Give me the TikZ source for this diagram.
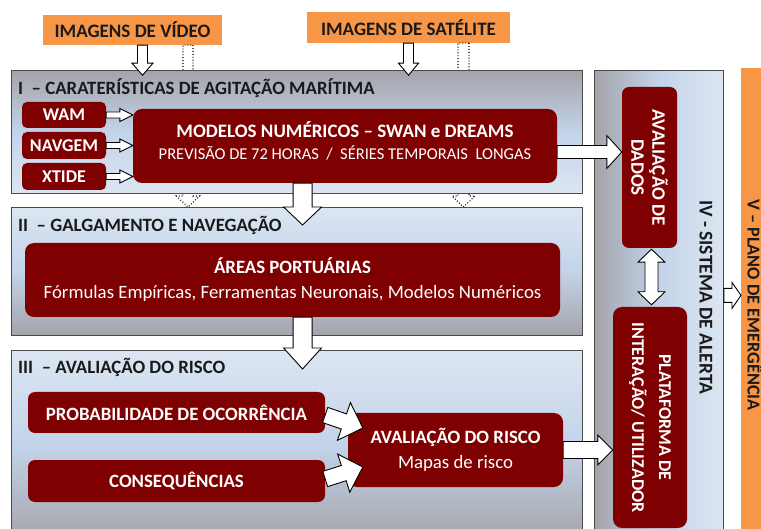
\documentclass[tikz,border=0pt]{standalone}
\usepackage{fontspec}
\setmainfont{Carlito}
\usetikzlibrary{calc}
\definecolor{orng}{HTML}{F79646}
\definecolor{dred}{HTML}{7F0000}
\definecolor{gry}{HTML}{A4A4A9}
\definecolor{lblue}{HTML}{C3D3EA}
\definecolor{llblue}{HTML}{DCE6F2}
\definecolor{edgec}{HTML}{4A4A4A}
\definecolor{txt}{HTML}{1A1A1A}

\newcommand{\blockarrow}[6][]{%
  \coordinate (ba-s) at #2; \coordinate (ba-e) at #3;
  \coordinate (ba-h) at ($(ba-e)!#6!(ba-s)$);
  \draw[blockarr,#1] ($(ba-s)!#4!90:(ba-e)$) -- ($(ba-h)!#4!90:(ba-e)$) -- ($(ba-h)!#5!90:(ba-e)$) -- (ba-e)
     -- ($(ba-h)!#5!-90:(ba-e)$) -- ($(ba-h)!#4!-90:(ba-e)$) -- ($(ba-s)!#4!-90:(ba-e)$) -- cycle;
}
\newcommand{\dblblockarrow}[6][]{%
  \coordinate (bb-s) at #2; \coordinate (bb-e) at #3;
  \coordinate (bb-h1) at ($(bb-s)!#6!(bb-e)$);
  \coordinate (bb-h2) at ($(bb-e)!#6!(bb-s)$);
  \draw[blockarr,#1] (bb-s) -- ($(bb-h1)!#5!90:(bb-e)$) -- ($(bb-h1)!#4!90:(bb-e)$) -- ($(bb-h2)!#4!90:(bb-e)$) -- ($(bb-h2)!#5!90:(bb-e)$) -- (bb-e)
     -- ($(bb-h2)!#5!-90:(bb-e)$) -- ($(bb-h2)!#4!-90:(bb-e)$) -- ($(bb-h1)!#4!-90:(bb-e)$) -- ($(bb-h1)!#5!-90:(bb-e)$) -- cycle;
}

\begin{document}
\begin{tikzpicture}[x=1pt,y=-1pt,
  gbox/.style={draw=edgec, line width=0.8pt, anchor=north west, inner sep=0pt},
  dbox/.style={fill=dred, rounded corners=7pt, text=white, inner sep=0pt, align=center},
  obox/.style={fill=orng, inner sep=0pt, text=txt, font=\bfseries\fontsize{19}{22}\selectfont},
  ttl/.style={anchor=west, inner sep=0pt, text=txt, font=\bfseries\fontsize{18.8}{22}\selectfont},
  blockarr/.style={draw=black, fill=white, line width=0.9pt, line join=miter},
  dotarr/.style={dotted, fill=none, line width=1.1pt},
  small/.style={font=\bfseries\fontsize{18}{21}\selectfont}
]
\useasboundingbox (0,0) rectangle (761,529);
\fill[white] (0,0) rectangle (761,529);
\clip (0,0) rectangle (761,529);

% image sources
\node[obox, minimum width=179pt, minimum height=30pt] (video) at (132.5,30) {IMAGENS DE VÍDEO};
\node[obox, minimum width=203pt, minimum height=31pt] (sat) at (408.5,27.5) {IMAGENS DE SATÉLITE};

% dotted arrows (behind boxes)
\coordinate (vdot) at (188,207);
\coordinate (sdot) at (463.5,207);
\blockarrow[dotarr]{([xshift=55.5pt]video.south)}{(vdot)}{5pt}{11.5pt}{11pt}
\blockarrow[dotarr]{([xshift=55pt]sat.south)}{(sdot)}{5.5pt}{11.5pt}{11pt}

% section boxes
\node[gbox, minimum width=571pt, minimum height=123pt, top color=gry, bottom color=llblue, middle color=lblue] (b1) at (11,70) {};
\node[gbox, minimum width=571pt, minimum height=128pt, top color=llblue, bottom color=gry, middle color=lblue] (b2) at (11,207) {};
\node[gbox, minimum width=571pt, minimum height=190pt, top color=llblue, bottom color=gry, middle color=lblue] (b3) at (11,350) {};
\node[gbox, minimum width=129pt, minimum height=470pt, left color=gry, right color=llblue, middle color=lblue] (b4) at (594,70) {};
\node[fill=orng, anchor=north west, inner sep=0pt, minimum width=40pt, minimum height=475pt] (b5) at (741,68) {};

% titles
\node[ttl] (t1) at (18,88) {I\ \ – CARATERÍSTICAS DE AGITAÇÃO MARÍTIMA};
\node[ttl] (t2) at (18,225) {II\ \ – GALGAMENTO E NAVEGAÇÃO};
\node[ttl] (t3) at (18,367) {III\ \ – AVALIAÇÃO DO RISCO};
\node[inner sep=0pt, rotate=-90, text=txt, font=\bfseries\fontsize{19.5}{22}\selectfont] (t4) at (706,297) {IV - SISTEMA DE ALERTA};
\node[inner sep=0pt, rotate=-90, text=txt, font=\bfseries\fontsize{18.2}{22}\selectfont] (t5) at (755,305) {V – PLANO DE EMERGÊNCIA};

% dark red boxes
\node[dbox, small, rounded corners=5pt, minimum width=84pt, minimum height=26pt] (wam) at (64,115) {WAM};
\node[dbox, small, rounded corners=5pt, minimum width=84pt, minimum height=27pt] (navgem) at (64,145.5) {NAVGEM};
\node[dbox, small, rounded corners=5pt, minimum width=84pt, minimum height=27pt] (xtide) at (64,176.5) {XTIDE};
\node[dbox, minimum width=424pt, minimum height=74pt, rounded corners=9pt, font=\fontsize{19}{22}\selectfont] (modelos) at (345,146)
  {{\bfseries MODELOS NUMÉRICOS – SWAN e DREAMS}\\
   {\fontsize{16.5}{20}\selectfont PREVISÃO DE 72 HORAS\ \ /\ \ SÉRIES TEMPORAIS\ \ LONGAS}\\[-17pt]\strut};
\node[dbox, minimum width=535pt, minimum height=74pt, rounded corners=9pt, font=\fontsize{18.8}{25}\selectfont] (areas) at (292.5,280)
  {{\bfseries ÁREAS PORTUÁRIAS}\\
   Fórmulas Empíricas, Ferramentas Neuronais, Modelos Numéricos};
\node[dbox, minimum width=297pt, minimum height=41pt, font=\bfseries\fontsize{18.8}{22}\selectfont] (prob) at (176.5,412.5) {PROBABILIDADE DE OCORRÊNCIA};
\node[dbox, minimum width=297pt, minimum height=42pt, font=\bfseries\fontsize{18.8}{22}\selectfont] (cons) at (176.5,481) {CONSEQUÊNCIAS};
\node[dbox, minimum width=215pt, minimum height=74pt, rounded corners=9pt, font=\fontsize{18.8}{25}\selectfont] (avarisco) at (455.5,450)
  {{\bfseries AVALIAÇÃO DO RISCO}\\
   Mapas de risco};
\node[dbox, rotate=-90, minimum width=161pt, minimum height=55pt, font=\bfseries\fontsize{19}{21}\selectfont] (avadados) at (649.5,167.5) {AVALIAÇÃO DE\\DADOS};
\node[dbox, rotate=-90, minimum width=221pt, minimum height=74pt, rounded corners=9pt, font=\bfseries\fontsize{18}{27}\selectfont] (plataforma) at (650,417.5) {PLATAFORMA DE\\INTERAÇÃO/ UTILIZADOR};

% block arrows
\coordinate (vtip) at ($(video.south)+(10,30)$);
\blockarrow{([xshift=10pt]video.south)}{(vtip)}{5pt}{10.5pt}{12pt}
\coordinate (stip) at ($(sat.south)+(0,32)$);
\blockarrow{(sat.south)}{(stip)}{5pt}{10pt}{12pt}

\blockarrow{(wam.east)}{(wam.east -| modelos.west)}{3pt}{6.5pt}{13pt}
\blockarrow{(navgem.east)}{(navgem.east -| modelos.west)}{3pt}{6.5pt}{13pt}
\blockarrow{(xtide.east)}{(xtide.east -| modelos.west)}{3pt}{6.5pt}{13pt}

\coordinate (m2a) at ($(modelos.east)+(0,6)$);
\blockarrow{(m2a)}{(avadados.south |- m2a)}{6.5pt}{16.5pt}{15pt}

\coordinate (m2s) at ($(modelos.south west)!0.4!(modelos.south east)$);
\coordinate (b2tip) at ($(m2s |- b2.north)+(0,18)$);
\blockarrow{(m2s)}{(b2tip)}{9.5pt}{19pt}{18pt}

\coordinate (a2s) at (areas.south -| m2s);
\coordinate (b3tip) at ($(a2s |- b3.north)+(0,19)$);
\blockarrow{(a2s)}{(b3tip)}{9.5pt}{19pt}{21pt}

\coordinate (p1s) at ($(prob.east)+(0,2.5)$);
\coordinate (p1e) at ($(avarisco.west)+(15,-22)$);
\blockarrow{(p1s)}{(p1e)}{8pt}{20pt}{20pt}
\coordinate (c1s) at ($(cons.east)+(0,-2)$);
\coordinate (c1e) at ($(avarisco.west)+(15,17)$);
\blockarrow{(c1s)}{(c1e)}{8pt}{20pt}{20pt}

\blockarrow{(avarisco.east)}{(plataforma.south |- avarisco.east)}{8.5pt}{15pt}{15pt}

\dblblockarrow{($(avadados.east)+(2,1)$)}{($(avadados.east |- plataforma.west)+(2,-2)$)}{6.5pt}{13.5pt}{13pt}

\coordinate (ivs) at ([yshift=10pt]b4.east);
\blockarrow{(ivs)}{(ivs -| b5.west)}{7pt}{13pt}{9pt}
\end{tikzpicture}
\end{document}
